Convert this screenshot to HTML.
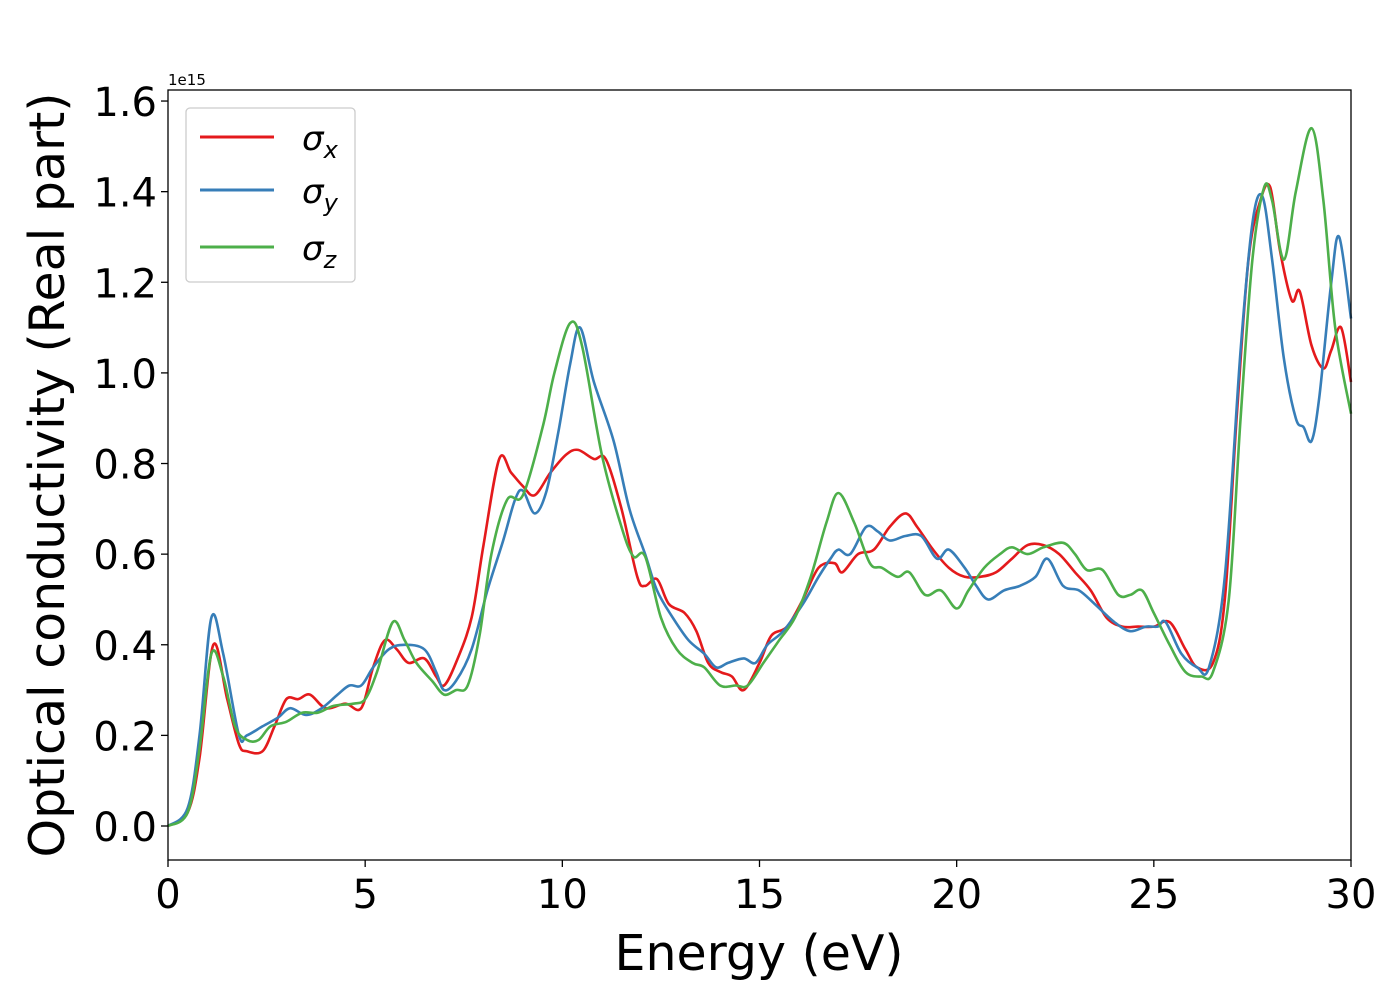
<!DOCTYPE html>
<html><head><meta charset="utf-8"><style>
html,body{margin:0;padding:0;background:#fff;}
svg{display:block;font-family:"DejaVu Sans","Liberation Sans",sans-serif;}
</style></head><body>
<svg id="chart" width="1400" height="1000" viewBox="0 0 1400 1000" xmlns="http://www.w3.org/2000/svg">
<rect width="1400" height="1000" fill="#fff"/>
<g id="series"></g>
<g id="axes"></g>
<rect x="168" y="90" width="1183" height="770" fill="none" stroke="#000" stroke-width="1.3"/>
<text x="168" y="85" font-size="15">1e15</text>
<text x="759" y="970" font-size="49" text-anchor="middle">Energy (eV)</text>
<text transform="translate(64,475) rotate(-90)" font-size="49" text-anchor="middle">Optical conductivity (Real part)</text>
<g>
<rect x="186" y="108" width="169" height="174" rx="4" fill="#fff" stroke="#ccc" stroke-width="1.3"/>
<line x1="200" y1="137" x2="274" y2="137" stroke="#e41a1c" stroke-width="3"/>
<text x="302" y="150" font-size="34" font-style="italic">σ<tspan font-size="24" dy="8">x</tspan></text>
<line x1="200" y1="190" x2="274" y2="190" stroke="#377eb8" stroke-width="3"/>
<text x="302" y="203" font-size="34" font-style="italic">σ<tspan font-size="24" dy="8">y</tspan></text>
<line x1="200" y1="247" x2="274" y2="247" stroke="#4daf4a" stroke-width="3"/>
<text x="302" y="260" font-size="34" font-style="italic">σ<tspan font-size="24" dy="8">z</tspan></text>
</g>
</svg>
<script>
const xTicks=[0,5,10,15,20,25,30];
const yTicks=[0.0,0.2,0.4,0.6,0.8,1.0,1.2,1.4,1.6];
const energyX=[0,0.5,0.8,1.15,1.5,1.8,2.0,2.4,2.7,3.0,3.3,3.6,4.0,4.5,4.9,5.2,5.5,5.8,6.1,6.5,6.8,7.0,7.3,7.7,8.0,8.4,8.7,9.0,9.3,9.7,10.1,10.4,10.8,11.1,11.5,11.9,12.1,12.4,12.7,13.1,13.4,13.7,14.0,14.3,14.6,15.0,15.3,15.7,16.1,16.5,16.9,17.1,17.5,17.9,18.3,18.7,19.0,19.4,19.8,20.2,20.6,21.0,21.4,21.8,22.2,22.6,23.0,23.4,23.8,24.2,24.6,25.0,25.4,25.8,26.1,26.5,26.8,27.1,27.4,27.7,27.95,28.2,28.5,28.7,29.0,29.3,29.5,29.75,30];
const sigmaX=[0,0.03,0.15,0.40,0.28,0.18,0.165,0.165,0.22,0.28,0.28,0.29,0.26,0.27,0.26,0.35,0.41,0.39,0.36,0.37,0.33,0.31,0.36,0.46,0.62,0.81,0.78,0.75,0.73,0.78,0.82,0.83,0.81,0.81,0.70,0.55,0.53,0.545,0.49,0.47,0.43,0.36,0.34,0.33,0.30,0.36,0.42,0.44,0.50,0.57,0.58,0.56,0.60,0.61,0.66,0.69,0.66,0.61,0.57,0.55,0.55,0.56,0.59,0.62,0.62,0.60,0.56,0.52,0.46,0.44,0.44,0.44,0.45,0.39,0.35,0.36,0.50,0.90,1.25,1.38,1.41,1.27,1.16,1.18,1.06,1.01,1.05,1.10,0.98];
const energyY=[0,0.5,0.8,1.1,1.4,1.8,2.0,2.4,2.8,3.1,3.5,3.9,4.3,4.6,4.9,5.2,5.6,6.0,6.5,6.8,7.0,7.3,7.7,8.1,8.5,8.8,9.0,9.3,9.6,9.9,10.2,10.45,10.8,11.3,11.7,12.1,12.4,12.8,13.2,13.6,13.9,14.2,14.6,14.9,15.2,15.6,16.1,16.5,16.8,17.0,17.3,17.7,18.0,18.3,18.7,19.1,19.5,19.8,20.2,20.5,20.8,21.2,21.6,22.0,22.3,22.7,23.1,23.5,24.0,24.4,24.8,25.1,25.3,25.7,26.1,26.4,26.8,27.2,27.5,27.75,28.0,28.3,28.6,28.8,29.0,29.2,29.5,29.7,30];
const sigmaY=[0,0.04,0.2,0.46,0.38,0.20,0.20,0.22,0.24,0.26,0.245,0.26,0.29,0.31,0.31,0.35,0.39,0.40,0.39,0.34,0.30,0.32,0.39,0.52,0.63,0.72,0.74,0.69,0.74,0.87,1.02,1.10,0.98,0.85,0.70,0.60,0.52,0.46,0.41,0.38,0.35,0.36,0.37,0.36,0.40,0.43,0.49,0.55,0.59,0.61,0.60,0.66,0.65,0.63,0.64,0.64,0.59,0.61,0.57,0.53,0.50,0.52,0.53,0.55,0.59,0.53,0.52,0.49,0.45,0.43,0.44,0.44,0.45,0.38,0.35,0.35,0.55,1.05,1.33,1.39,1.25,1.03,0.90,0.88,0.85,0.95,1.20,1.30,1.12];
const energyZ=[0,0.5,0.8,1.1,1.4,1.7,2.0,2.3,2.6,3.0,3.4,3.8,4.2,4.7,5.0,5.3,5.7,6.0,6.3,6.7,7.0,7.3,7.6,7.9,8.2,8.6,9.0,9.5,9.8,10.2,10.5,11.0,11.5,11.8,12.1,12.5,12.9,13.3,13.6,14.0,14.4,14.7,15.1,15.5,15.9,16.3,16.7,17.0,17.4,17.8,18.1,18.5,18.8,19.2,19.6,20.0,20.3,20.7,21.1,21.4,21.8,22.2,22.7,23.0,23.3,23.7,24.1,24.4,24.7,25.0,25.4,25.8,26.2,26.5,26.9,27.2,27.5,27.8,28.0,28.3,28.6,29.0,29.3,29.6,30];
const sigmaZ=[0,0.03,0.17,0.38,0.33,0.22,0.19,0.19,0.22,0.23,0.25,0.25,0.265,0.27,0.28,0.34,0.45,0.41,0.36,0.32,0.29,0.30,0.31,0.42,0.60,0.72,0.73,0.88,1.00,1.11,1.06,0.82,0.66,0.595,0.595,0.46,0.39,0.36,0.35,0.31,0.31,0.31,0.36,0.41,0.46,0.55,0.67,0.735,0.67,0.58,0.57,0.55,0.56,0.51,0.52,0.48,0.52,0.57,0.60,0.615,0.60,0.615,0.625,0.60,0.565,0.565,0.51,0.51,0.52,0.47,0.40,0.34,0.33,0.34,0.50,0.90,1.25,1.41,1.38,1.25,1.40,1.54,1.38,1.10,0.91];

const X0=168,X1=1351,Y0=826,YPER=453.1;
function xs(e){return X0+(e-0)*(X1-X0)/30;}
function ys(v){return Y0-v*YPER;}
const NS="http://www.w3.org/2000/svg";
const axes=document.getElementById('axes');
xTicks.forEach(t=>{
  const l=document.createElementNS(NS,'line');
  
  
  l.setAttribute('x1',xs(t));l.setAttribute('x2',xs(t));l.setAttribute('y1',860);l.setAttribute('y2',867);l.setAttribute('stroke','#000');l.setAttribute('stroke-width','1.3');
  axes.appendChild(l);
  const tx=document.createElementNS(NS,'text');
  
  
  tx.setAttribute('x',xs(t));tx.setAttribute('y',908);tx.setAttribute('font-size','40');tx.setAttribute('text-anchor','middle');
  tx.textContent=String(t);axes.appendChild(tx);
});
yTicks.forEach(t=>{
  const l=document.createElementNS(NS,'line');
  
  
  l.setAttribute('x1',161);l.setAttribute('x2',168);l.setAttribute('y1',ys(t));l.setAttribute('y2',ys(t));l.setAttribute('stroke','#000');l.setAttribute('stroke-width','1.3');
  axes.appendChild(l);
  const tx=document.createElementNS(NS,'text');
  
  
  tx.setAttribute('x',157);tx.setAttribute('y',ys(t)+15);tx.setAttribute('font-size','40');tx.setAttribute('text-anchor','end');
  tx.textContent=t.toFixed(1);axes.appendChild(tx);
});
function pathFor(ex,vals){
  const p=ex.map((e,i)=>[xs(e),ys(vals[i])]);
  let d='M'+p[0][0].toFixed(1)+','+p[0][1].toFixed(1);
  for(let i=0;i<p.length-1;i++){
    const a=p[Math.max(0,i-1)],b=p[i],c=p[i+1],n=p[Math.min(p.length-1,i+2)];
    const c1=[b[0]+(c[0]-a[0])/6,b[1]+(c[1]-a[1])/6],c2=[c[0]-(n[0]-b[0])/6,c[1]-(n[1]-b[1])/6];
    d+='C'+c1[0].toFixed(1)+','+c1[1].toFixed(1)+' '+c2[0].toFixed(1)+','+c2[1].toFixed(1)+' '+c[0].toFixed(1)+','+c[1].toFixed(1);
  }
  return d;
}
const g=document.getElementById('series');
[['sigma-x-line',energyX,sigmaX,'#e41a1c'],['sigma-y-line',energyY,sigmaY,'#377eb8'],['sigma-z-line',energyZ,sigmaZ,'#4daf4a']].forEach(s=>{
  const pth=document.createElementNS(NS,'path');
  
  
  pth.setAttribute('d',pathFor(s[1],s[2]));
  pth.setAttribute('fill','none');pth.setAttribute('stroke',s[3]);pth.setAttribute('stroke-width','2.6');
  g.appendChild(pth);
});
</script>
</body></html>
